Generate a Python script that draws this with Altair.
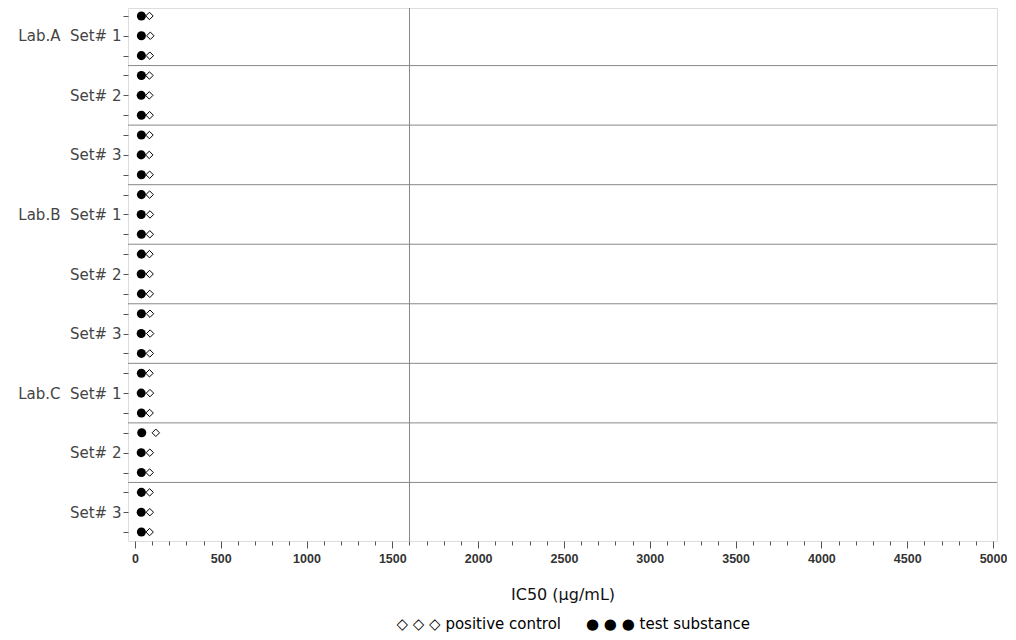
import altair as alt
import pandas as pd

# ---- data ----
labs = ["Lab.A", "Lab.B", "Lab.C"]
sets = ["Set# 1", "Set# 2", "Set# 3"]
reps = [1, 2, 3]
test_substance = [38, 38, 38, 38, 37, 38, 38, 37, 38,
                  38, 37, 38, 38, 37, 38, 38, 37, 38,
                  38, 37, 38, 40, 37, 38, 38, 37, 38]
positive_control = [85, 90, 87, 85, 84, 86, 85, 84, 86,
                    86, 88, 87, 85, 86, 87, 88, 89, 87,
                    85, 88, 86, 122, 87, 86, 86, 87, 86]
reference_line = [1600]
x_ticks = list(range(0, 5001, 100))
nb = "\u00a0"
legend_items = ["\u25c7 \u25c7 \u25c7 positive control", "\u25cf \u25cf \u25cf test substance"]

rows = []
labels = []
i = 0
for lab in labs:
    for s in sets:
        for r in reps:
            i += 1
            if r == 2:
                labels.append((lab + nb + nb if s == "Set# 1" else "") + s)
            else:
                labels.append("")
            rows.append({"row": i, "series": "test substance", "value": test_substance[i - 1]})
            rows.append({"row": i, "series": "positive control", "value": positive_control[i - 1]})
df = pd.DataFrame(rows)
n_rows = i
separators = pd.DataFrame({"y": [k * 3 + 0.5 for k in range(1, len(labs) * len(sets))]})
vline = pd.DataFrame({"x": reference_line})

label_js = "[" + ",".join("'" + l + "'" for l in labels) + "]"

xscale = alt.Scale(domain=[-40, 5023], nice=False, zero=False)
yscale = alt.Scale(domain=[0.6, n_rows + 0.45], reverse=True, nice=False, zero=False)

x_axis = alt.Axis(
    values=x_ticks, title="IC50 (\u03bcg/mL)", grid=False, domain=False, format="d",
    labelExpr="datum.value % 500 === 0 ? datum.label : ''",
    labelOverlap=False, labelFlush=False,
    tickSize={"expr": "datum.value % 500 === 0 ? 7 : 4"},
    tickColor="#555", labelColor="#333", labelFont="Liberation Sans",
    labelFontSize=12.5, labelFontWeight="bold", labelPadding=4,
    titleFont="DejaVu Sans", titleFontSize=16, titleFontWeight="normal",
    titleColor="#111", titlePadding=22,
)
y_axis = alt.Axis(
    values=list(range(1, n_rows + 1)), title=None, grid=False, domain=False,
    labelExpr=label_js + "[datum.value - 1]", labelOverlap=False,
    tickSize=5, tickColor="#555", labelColor="#444",
    labelFont="DejaVu Sans", labelFontSize=15, labelPadding=2,
)

X = lambda f: alt.X(f, scale=xscale, axis=x_axis)
Y = lambda f: alt.Y(f, scale=yscale, axis=y_axis)

diamonds = alt.Chart(df).transform_filter(
    alt.datum.series == "positive control"
).mark_point(shape="diamond", filled=False, stroke="black", strokeWidth=1, size=55, opacity=1).encode(
    x=X("value:Q"), y=Y("row:Q"),
)
circles = alt.Chart(df).transform_filter(
    alt.datum.series == "test substance"
).mark_circle(color="black", size=82, opacity=1).encode(
    x=X("value:Q"), y=Y("row:Q"),
)
seps = alt.Chart(separators).mark_rule(color="#888", strokeWidth=1).encode(
    y=Y("y:Q")
)
vl = alt.Chart(vline).mark_rule(color="#888", strokeWidth=1).encode(
    x=X("x:Q")
)
leg1 = alt.Chart(pd.DataFrame({"t": legend_items[:1]})).mark_text(
    font="DejaVu Sans", fontSize=15, color="black", align="right", baseline="middle"
).encode(text="t:N", x=alt.value(433), y=alt.value(616))
leg2 = alt.Chart(pd.DataFrame({"t": legend_items[1:]})).mark_text(
    font="DejaVu Sans", fontSize=15, color="black", align="left", baseline="middle"
).encode(text="t:N", x=alt.value(458), y=alt.value(616))

chart = alt.layer(seps, vl, diamonds, circles, leg1, leg2).properties(
    width=869, height=533,
    autosize=alt.AutoSizeParams(type="none"),
    padding={"left": 120, "top": 0, "right": 10, "bottom": 92},
).configure_view(stroke="#888", strokeWidth=1).configure(background="white")

chart.save("out.html", embed_options={"renderer": "svg", "actions": False})
